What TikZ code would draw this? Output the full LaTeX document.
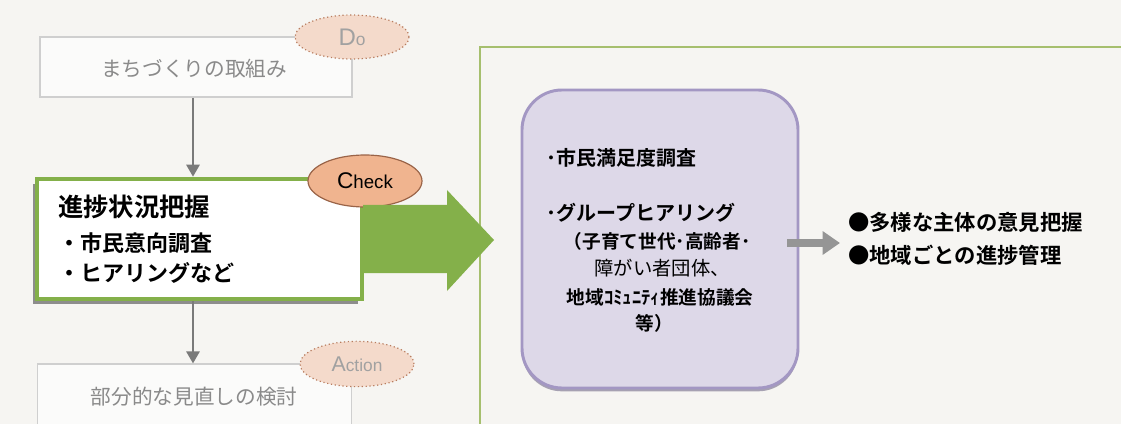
\documentclass[tikz,border=0pt]{standalone}
\usepackage{fontspec}
\setmainfont{Liberation Sans}
\newfontfamily\jp{Noto Sans CJK JP}[BoldFont={Noto Sans CJK JP Bold}]
\usetikzlibrary{arrows.meta,shapes.geometric,shadows}
\definecolor{bgc}{HTML}{F6F5F2}
\definecolor{boxline}{HTML}{CFCFCF}
\definecolor{graytxt}{HTML}{8A8A8A}
\definecolor{peachl}{HTML}{F4DACB}
\definecolor{peachd}{HTML}{F0B48F}
\definecolor{peachline}{HTML}{B87C5E}
\definecolor{ckline}{HTML}{9A6448}
\definecolor{grn}{HTML}{84B04A}
\definecolor{frame}{HTML}{A6BF6E}
\definecolor{purf}{HTML}{DDD8E8}
\definecolor{purl}{HTML}{A397C3}
\definecolor{arrg}{HTML}{7A7A7A}
\tikzset{
  lightbox/.style={draw=boxline, line width=0.9pt, fill=white!60!bgc, inner sep=0pt},
  phase/.style={ellipse, inner sep=0pt, minimum width=85.5pt, minimum height=33pt},
  dimphase/.style={phase, fill=peachl, draw=peachline, line width=0.9pt, dotted, text=graytxt!80},
  flowarrow/.style={draw=arrg, line width=1.5pt, -{Triangle[width=10pt,length=9pt]}},
  dimtxt/.style={font=\jp\fontsize{15.5}{18}\selectfont, text=graytxt},
  itemtxt/.style={font=\jp\bfseries\fontsize{15}{18}\selectfont, anchor=west, inner sep=0pt},
  subtxt/.style={font=\jp\bfseries\fontsize{14}{18}\selectfont, inner sep=0pt},
}
\begin{document}
\begin{tikzpicture}[x=0.75pt,y=-0.75pt]
\fill[bgc] (0,0) rectangle (1121,424);
\useasboundingbox (0,0) rectangle (1121,424);
\clip (0,0) rectangle (1121,424);

% right green frame
\draw[frame, line width=1.6pt] (480,47) rectangle (1140,450);

% Do box
\node[lightbox, minimum width=234pt, minimum height=45pt] (dobox) at (196,67) {};
\node[dimtxt] (dotxt) at (194,69) {まちづくりの取組み};
\node[dimphase] (do) at (352,37) {\fontsize{18}{18}\selectfont D\fontsize{13}{13}\selectfont o};

% Check box
\node[draw=grn, line width=3.5pt, fill=white, minimum width=243.75pt, minimum height=90pt,
      drop shadow={shadow xshift=-3pt, shadow yshift=-3.5pt, fill=black!55, opacity=0.8}] (check) at (199.5,239) {};
\node[font=\jp\bfseries\fontsize{19}{22}\selectfont, anchor=west, inner sep=0pt] (cktitle) at (58,207) {進捗状況把握};
\node[font=\jp\bfseries\fontsize{16.5}{20}\selectfont, anchor=west, inner sep=0pt] (ck1) at (58,243) {・市民意向調査};
\node[font=\jp\bfseries\fontsize{16.5}{20}\selectfont, anchor=west, inner sep=0pt] (ck2) at (58,273) {・ヒアリングなど};
\node[phase, fill=peachd, draw=ckline, line width=0.9pt, minimum height=39pt] (ckphase) at (365,181)
  {\fontsize{17}{17}\selectfont C\fontsize{14}{14}\selectfont heck};

% Action box
\node[lightbox, minimum width=236pt, minimum height=60pt] (actbox) at (194.5,404) {};
\node[dimtxt] (acttxt) at (194,397) {部分的な見直しの検討};
\node[dimphase, minimum height=34pt] (act) at (357,364) {\fontsize{16}{16}\selectfont A\fontsize{13}{13}\selectfont ction};

% flow arrows
\draw[flowarrow] (dobox.south -| 193,0) -- (check.north -| 193,0);
\draw[flowarrow] (check.south -| 193,0) -- (actbox.north -| 193,0);

% big green arrow
\fill[grn] (363,205) -- (447,205) -- (447,190) -- (494,240) -- (447,291) -- (447,273) -- (363,273) -- cycle;

% purple box
\node[draw=purl, line width=2.2pt, fill=purf, rounded corners=30pt, minimum width=207pt, minimum height=223.5pt,
      drop shadow={shadow xshift=0pt, shadow yshift=-2.5pt, fill=purl!70!black, opacity=0.6}] (pur) at (660,239) {};
\node[itemtxt] (p1) at (546,158) {･市民満足度調査};
\node[itemtxt] (p2) at (546,213) {･グループヒアリング};
\node[subtxt] (p3) at (657,241) {（子育て世代･高齢者･};
\node[subtxt, font=\jp\fontsize{14.5}{18}\selectfont] (p4) at (662,268) {障がい者団体、};
\node[subtxt] (p5) at (660,297) {地域ｺﾐｭﾆﾃｨ推進協議会};
\node[subtxt] (p6) at (654,323) {等）};

% result
\node[font=\jp\bfseries\fontsize{16}{25}\selectfont, anchor=west, inner sep=0pt, align=left] (res) at (848,239)
  {●多様な主体の意見把握\\●地域ごとの進捗管理};
\draw[draw=arrg!80, line width=6pt, -{Triangle[width=17pt,length=13pt]}] ([xshift=-9pt,yshift=-3pt]pur.east) -- ([xshift=-6pt,yshift=-3pt]res.west);
\end{tikzpicture}
\end{document}
